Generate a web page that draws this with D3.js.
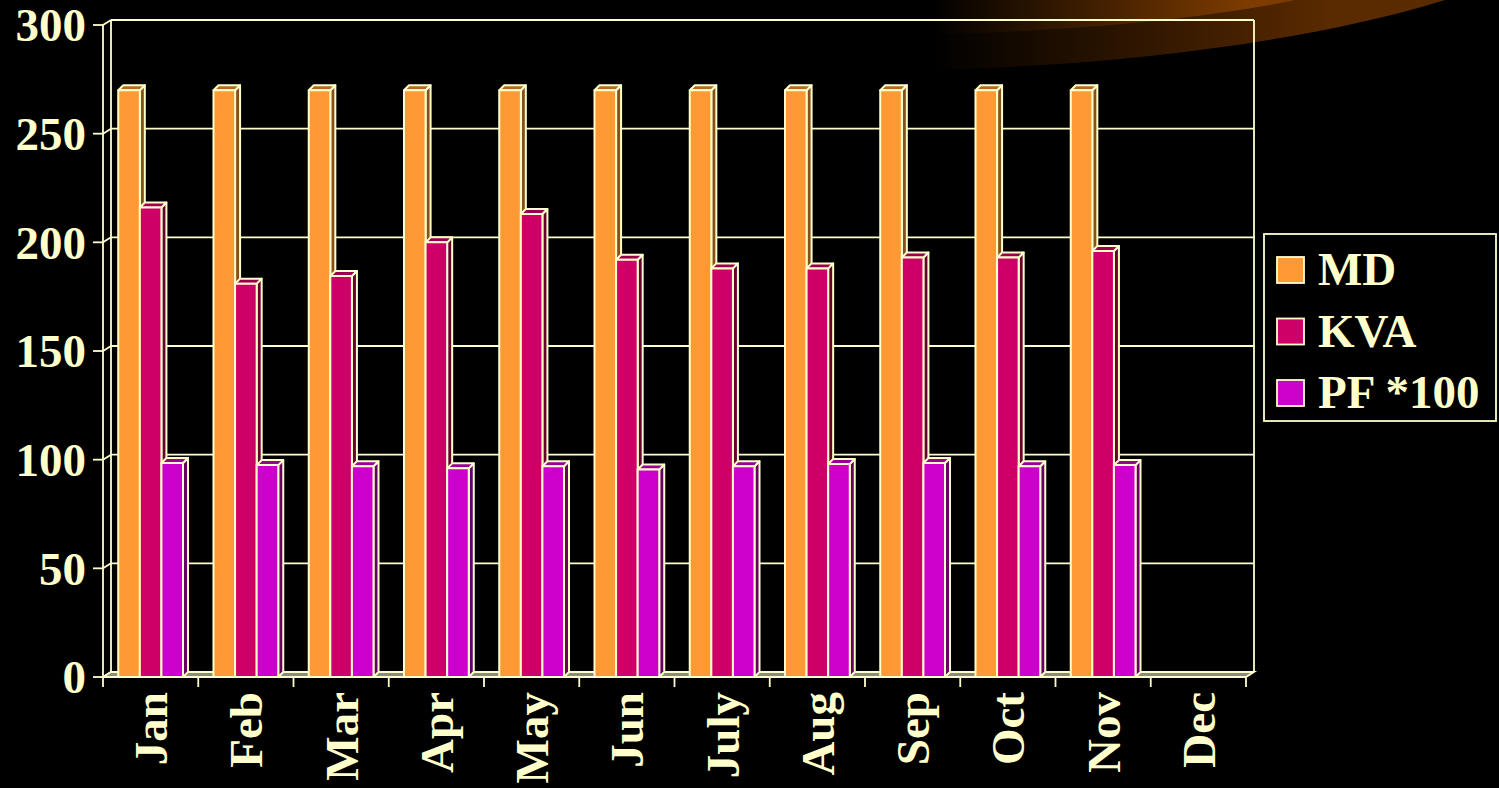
<!DOCTYPE html>
<html>
<head>
<meta charset="utf-8">
<script src="https://cdn.jsdelivr.net/npm/d3@7"></script>
<style>
  html, body { margin: 0; padding: 0; background: #000; }
  svg { display: block; }
  text { font-family: "Liberation Serif", "Times New Roman", serif; font-weight: bold; fill: #FFFFCC; }
</style>
</head>
<body>
<script>
// Monthly load figures
const months = ["Jan", "Feb", "Mar", "Apr", "May", "Jun", "July", "Aug", "Sep", "Oct", "Nov", "Dec"];
const seriesNames = ["MD", "KVA", "PF *100"];
const mdValues  = [270, 270, 270, 270, 270, 270, 270, 270, 270, 270, 270, null];
const kvaValues = [216, 181, 184.5, 200, 213, 192, 188, 188, 193, 193, 196, null];
const pfValues  = [98.5, 97.5, 97, 96, 97, 95.5, 97, 98, 98.5, 97, 97.5, null];
const yTicks = [0, 50, 100, 150, 200, 250, 300];

const W = 1499, H = 788;
const ink = "#FFFFCC";
const faces = {
  "MD":      { front: "#FF9933", top: "#B36B22", side: "#85501C" },
  "KVA":     { front: "#CC0066", top: "#99004D", side: "#660033" },
  "PF *100": { front: "#CC00CC", top: "#990099", side: "#660066" }
};
const wallDx = 8, wallDy = -5;   // depth of the chart box
const barDx = 5, barDy = -5;     // depth of each column

const svg = d3.select("body").append("svg").attr("width", W).attr("height", H);

// Decorative swoosh in the top-right corner
const defs = svg.append("defs");
const g1 = defs.append("linearGradient").attr("id", "swooshLow")
  .attr("gradientUnits", "userSpaceOnUse").attr("x1", 930).attr("x2", 1330).attr("y1", 0).attr("y2", 0);
g1.append("stop").attr("offset", 0).attr("stop-color", "#000000");
g1.append("stop").attr("offset", 1).attr("stop-color", "#5A2A00");
const g2 = defs.append("linearGradient").attr("id", "swooshHigh")
  .attr("gradientUnits", "userSpaceOnUse").attr("x1", 930).attr("x2", 1250).attr("y1", 0).attr("y2", 0);
g2.append("stop").attr("offset", 0).attr("stop-color", "#000000");
g2.append("stop").attr("offset", 1).attr("stop-color", "#7E3C00");
svg.append("path").attr("fill", "url(#swooshLow)")
  .attr("d", "M930,0 L930,70 C1100,66 1300,45 1445,0 Z");
svg.append("path").attr("fill", "url(#swooshHigh)")
  .attr("d", "M930,0 L930,34 C1060,32 1200,20 1295,0 Z");

// Scales
const y = d3.scaleLinear().domain([0, 300]).range([677, 25]);
const x = d3.scaleBand().domain(months).range([103, 1246]).paddingInner(0.32).paddingOuter(0.16);
const xs = d3.scaleBand().domain(seriesNames).range([0, x.bandwidth()]);
const x0 = 103, x1 = 1246;
const step = (x1 - x0) / months.length;

const frame = svg.append("g").attr("fill", "none").attr("stroke", ink).attr("stroke-width", 1.8);

// Floor
svg.append("path")
  .attr("d", `M${x0},${y(0)} L${x1},${y(0)} L${x1 + wallDx},${y(0) + wallDy} L${x0 + wallDx},${y(0) + wallDy} Z`)
  .attr("fill", "#8A8A82").attr("stroke", ink).attr("stroke-width", 1.8);

// Back wall gridlines and left wall connectors
yTicks.forEach(t => {
  frame.append("line")
    .attr("x1", x0 + wallDx).attr("x2", x1 + wallDx)
    .attr("y1", y(t) + wallDy).attr("y2", y(t) + wallDy);
  frame.append("line")
    .attr("x1", x0).attr("y1", y(t))
    .attr("x2", x0 + wallDx).attr("y2", y(t) + wallDy);
});
// Wall edges
frame.append("line").attr("x1", x0 + wallDx).attr("x2", x0 + wallDx)
  .attr("y1", y(300) + wallDy).attr("y2", y(0) + wallDy);
frame.append("line").attr("x1", x1 + wallDx).attr("x2", x1 + wallDx)
  .attr("y1", y(300) + wallDy).attr("y2", y(0) + wallDy);

// Columns, drawn left to right so each front face covers its neighbour's side
const seriesValues = { "MD": mdValues, "KVA": kvaValues, "PF *100": pfValues };
const barsG = svg.append("g").attr("stroke", ink).attr("stroke-width", 2).attr("stroke-linejoin", "round");
months.forEach((m, i) => {
  seriesNames.forEach(s => {
    const v = seriesValues[s][i];
    if (v == null) return;
    const bx0 = x(m) + xs(s), bx1 = bx0 + xs.bandwidth();
    const yt = y(v), yb = y(0);
    const c = faces[s];
    barsG.append("path").attr("fill", c.side)
      .attr("d", `M${bx1},${yt} L${bx1 + barDx},${yt + barDy} L${bx1 + barDx},${yb + barDy} L${bx1},${yb} Z`);
    barsG.append("path").attr("fill", c.top)
      .attr("d", `M${bx0},${yt} L${bx0 + barDx},${yt + barDy} L${bx1 + barDx},${yt + barDy} L${bx1},${yt} Z`);
    barsG.append("rect").attr("fill", c.front)
      .attr("x", bx0).attr("y", yt).attr("width", bx1 - bx0).attr("height", yb - yt);
  });
});

// Front value axis
const axG = svg.append("g").attr("stroke", ink).attr("stroke-width", 1.8);
axG.append("line").attr("x1", x0).attr("x2", x0).attr("y1", y(300)).attr("y2", y(0));
yTicks.forEach(t => {
  axG.append("line").attr("x1", x0 - 10).attr("x2", x0).attr("y1", y(t)).attr("y2", y(t));
});
svg.append("g").selectAll("text").data(yTicks).join("text")
  .attr("x", 86).attr("y", d => y(d)).attr("dy", "0.35em")
  .attr("text-anchor", "end").attr("font-size", 47).text(d => d);

// Category axis ticks and rotated month labels
d3.range(months.length + 1).forEach(i => {
  axG.append("line").attr("x1", x0 + i * step).attr("x2", x0 + i * step)
    .attr("y1", y(0)).attr("y2", y(0) + 10);
});
svg.append("g").selectAll("text").data(months).join("text")
  .attr("transform", d => `translate(${x(d) + x.bandwidth() / 2},692) rotate(-90)`)
  .attr("text-anchor", "end").attr("dy", "0.35em")
  .attr("font-size", 47).text(d => d);

// Legend
const lg = svg.append("g");
lg.append("rect").attr("x", 1264).attr("y", 234).attr("width", 232).attr("height", 187)
  .attr("fill", "#000").attr("stroke", ink).attr("stroke-width", 1.8);
seriesNames.forEach((s, i) => {
  const ly = 257 + i * 61.5;
  lg.append("rect").attr("x", 1277).attr("y", ly).attr("width", 27).attr("height", 26)
    .attr("fill", faces[s].front).attr("stroke", ink).attr("stroke-width", 1.8);
  lg.append("text").attr("x", 1318).attr("y", ly + 28).attr("font-size", 47).text(s);
});
</script>
</body>
</html>
